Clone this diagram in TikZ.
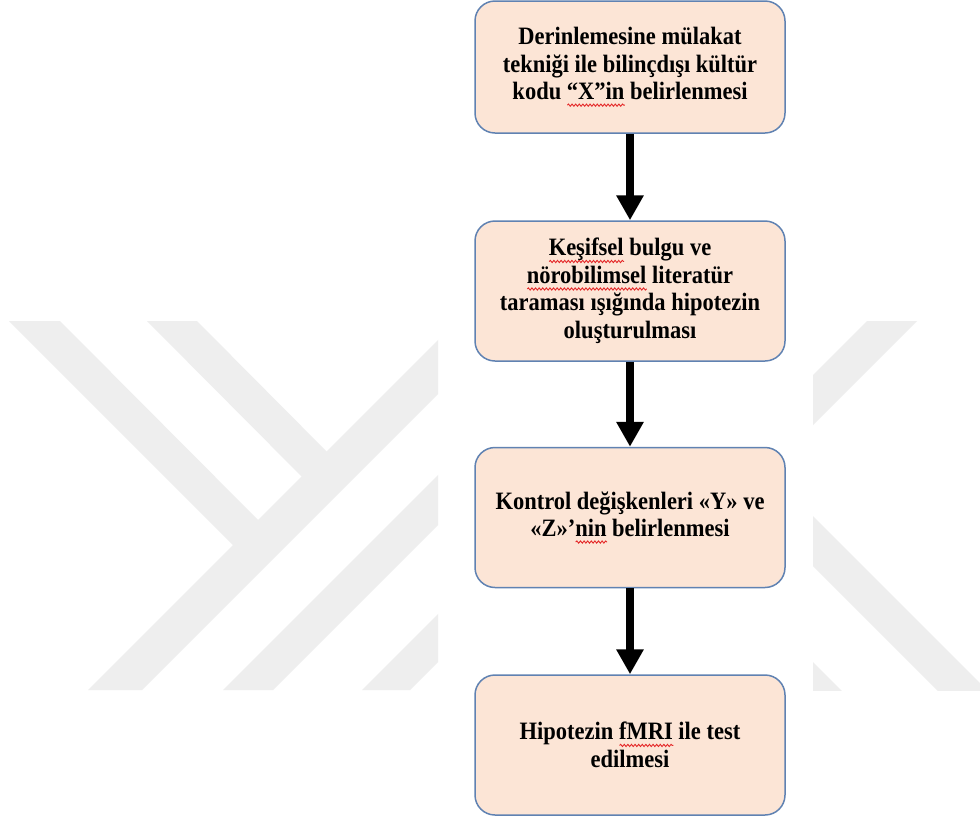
\documentclass[tikz,border=0pt]{standalone}
\usepackage{fontspec}
\setmainfont[FakeStretch=0.9]{Liberation Serif}
\usetikzlibrary{arrows.meta,decorations.pathmorphing}

\definecolor{boxfill}{RGB}{252,229,214}
\definecolor{boxline}{RGB}{96,130,178}
\definecolor{wmgray}{RGB}{238,238,238}
\definecolor{spellred}{RGB}{228,40,40}

% red wavy underline for flagged words
\newsavebox\spellbox
\newlength\spellwd
\newcommand\redwave[1]{\leavevmode\sbox\spellbox{#1}\setlength\spellwd{\wd\spellbox}%
  \rlap{\tikz[baseline=0pt]\draw[draw=spellred, fill=none, line width=0.9pt,
      rounded corners=0pt, decorate,
      decoration={snake, amplitude=1.1pt, segment length=3.6pt}]
      (0pt,-5.5pt) -- (\spellwd,-5.5pt);}\usebox\spellbox}

\begin{document}
\begin{tikzpicture}[x=1pt,y=-1pt,
  stepbox/.style={draw=boxline, line width=1.5pt, fill=boxfill,
    rounded corners=20pt, minimum width=310pt, minimum height=140pt,
    align=center, inner sep=0pt,
    font=\fontsize{25}{27.5}\selectfont\bfseries},
  flow/.style={line width=8pt, -{Triangle[width=26pt,length=25pt]}},
  band/.style={fill=wmgray}]

\useasboundingbox (0,0) rectangle (980,820);
\fill[white] (0,0) rectangle (980,820);

% background emblem, left part
\begin{scope}
  \clip (0,321) rectangle (438,690);
  \fill[band] (88,690) -- (142,690) -- (511,321) -- (457,321) -- cycle;
  \fill[band] (223,690) -- (273,690) -- (642,321) -- (592,321) -- cycle;
  \fill[band] (362,690) -- (410,690) -- (779,321) -- (731,321) -- cycle;
  \fill[band] (9,321) -- (60,321) -- (269,531) -- (244,556) -- cycle;
  \fill[band] (147,321) -- (197,321) -- (337.5,462.5) -- (312.5,487.5) -- cycle;
\end{scope}

% background emblem, right part
\begin{scope}
  \clip (813,321) rectangle (980,690);
  \fill[band] (867,321) -- (917,321) -- (750,488) -- (750,438) -- cycle;
  \fill[band] (750,453) -- (1050,753) -- (1050,803) -- (750,503) -- cycle;
  \fill[band] (750,599) -- (1000,849) -- (1000,899) -- (750,649) -- cycle;
\end{scope}

% process steps
\node[stepbox, minimum height=132pt] (s1) at (630,67)
  {Derinlemesine mülakat\\tekniği ile bilinçdışı kültür\\kodu \redwave{“X”in} belirlenmesi};
\node[stepbox] (s2) at (630,291)
  {\redwave{Keşifsel} bulgu ve\\\redwave{nörobilimsel} literatür\\taraması ışığında hipotezin\\oluşturulması};
\node[stepbox] (s3) at (630,517.5)
  {Kontrol değişkenleri «Y» ve\\«Z»’\redwave{nin} belirlenmesi};
\node[stepbox] (s4) at (630,745)
  {Hipotezin \redwave{fMRI} ile test\\edilmesi};

% flow arrows
\draw[flow] (s1) -- (s2);
\draw[flow] (s2) -- (s3);
\draw[flow] (s3) -- (s4);
\end{tikzpicture}
\end{document}
